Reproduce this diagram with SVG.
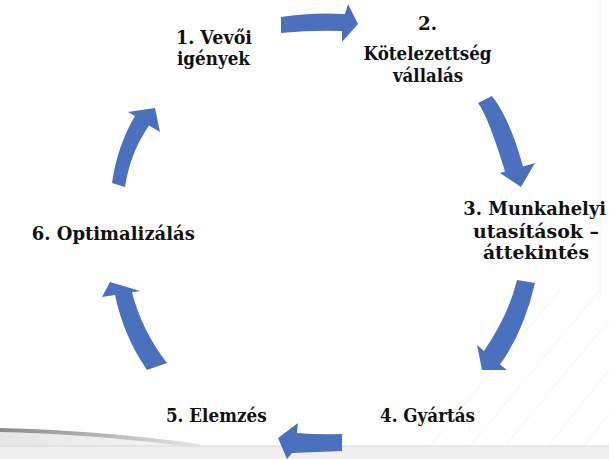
<svg xmlns="http://www.w3.org/2000/svg" width="609" height="459" viewBox="0 0 609 459">
  <defs>
    <linearGradient id="swoosh" x1="0" y1="0" x2="1" y2="0">
      <stop offset="0" stop-color="#8a8a8a"/>
      <stop offset="0.5" stop-color="#b5b5b5"/>
      <stop offset="1" stop-color="#e6e6e6"/>
    </linearGradient>
    <linearGradient id="shade" x1="0" y1="0" x2="1" y2="0">
      <stop offset="0" stop-color="#e6e6e6"/>
      <stop offset="1" stop-color="#f6f6f6"/>
    </linearGradient>
  </defs>
  <style>
    .lbl { font-family: "DejaVu Serif", "Liberation Serif", serif; font-weight: bold; font-size: 18px; fill: #111; text-anchor: middle; }
    .arrow { fill: #4A70BE; }
    .faint { stroke: #f4f4f4; stroke-width: 1; fill: none; }
  </style>

  <!-- background -->
  <rect x="0" y="0" width="609" height="459" fill="#ffffff"/>
  <line x1="600" y1="0" x2="600" y2="300" stroke="#f6f6f6" stroke-width="1"/>
  <g id="bg-lines">
    <line class="faint" x1="584" y1="446" x2="609" y2="414"/>
    <line class="faint" x1="548" y1="446" x2="609" y2="370"/>
    <line class="faint" x1="505" y1="446" x2="609" y2="320"/>
    <line class="faint" x1="470" y1="446" x2="600" y2="290"/>
    <line class="faint" x1="430" y1="446" x2="560" y2="290"/>
  </g>
  <path d="M0,432 Q95,434 200,446 L0,446 Z" fill="url(#shade)"/>
  <path d="M0,430 Q95,432 200,446" stroke="url(#swoosh)" stroke-width="4" fill="none"/>
  <rect x="0" y="446" width="609" height="13" fill="#efefef"/>
  <line x1="0" y1="446" x2="609" y2="446" stroke="#d8d8d8" stroke-width="1"/>

  <!-- connectors -->
  <g id="connectors">
    <path class="arrow" d="M281,17 Q312,12 345,14 L348,4 L358,24 L342,42 L342,31 Q312,30 281,33 Z"/>
    <path class="arrow" d="M478,103 Q488,116 505,171.6 L500,173 L521,187 L535,163 L523,166.4 Q510,119 492,96 Z"/>
    <path class="arrow" d="M517,280 Q509,314 484,351 L477,345 L482,370 L507,370 L500,364.5 Q524,331 535,283 Z"/>
    <path class="arrow" d="M342,434 Q320,435 297,433 L298,423 L278,438 L287,459 L292,453 Q318,452 342,451 Z"/>
    <path class="arrow" d="M147,370 Q123.6,336 115,295 L102,297 L110,282 L140,291 L132,292.3 Q142,331 167,363 Z"/>
    <path class="arrow" d="M112,183 Q117,146.7 135,116 L128,112 L155,108 L160,132 L149,125.5 Q130,153 125,187 Z"/>
  </g>

  <!-- nodes -->
  <g id="node1">
    <text class="lbl" x="214" y="43.5" textLength="76" lengthAdjust="spacingAndGlyphs">1. Vevői</text>
    <text class="lbl" x="213.5" y="65" textLength="73" lengthAdjust="spacingAndGlyphs">igények</text>
  </g>
  <g id="node2">
    <text class="lbl" x="427.5" y="30" textLength="19" lengthAdjust="spacingAndGlyphs">2.</text>
    <text class="lbl" x="427.5" y="59.5" textLength="128" lengthAdjust="spacingAndGlyphs">Kötelezettség</text>
    <text class="lbl" x="428" y="81.5" textLength="70" lengthAdjust="spacingAndGlyphs">vállalás</text>
  </g>
  <g id="node3">
    <text class="lbl" x="534.7" y="215" textLength="142.7" lengthAdjust="spacingAndGlyphs">3. Munkahelyi</text>
    <text class="lbl" x="536" y="237.5" textLength="126" lengthAdjust="spacingAndGlyphs">utasítások –</text>
    <text class="lbl" x="536" y="258.5" textLength="106" lengthAdjust="spacingAndGlyphs">áttekintés</text>
  </g>
  <g id="node4">
    <text class="lbl" x="427.5" y="421.5" textLength="95" lengthAdjust="spacingAndGlyphs">4. Gyártás</text>
  </g>
  <g id="node5">
    <text class="lbl" x="216.3" y="421.5" textLength="100.7" lengthAdjust="spacingAndGlyphs">5. Elemzés</text>
  </g>
  <g id="node6">
    <text class="lbl" x="113.3" y="240" textLength="163" lengthAdjust="spacingAndGlyphs">6. Optimalizálás</text>
  </g>
</svg>
